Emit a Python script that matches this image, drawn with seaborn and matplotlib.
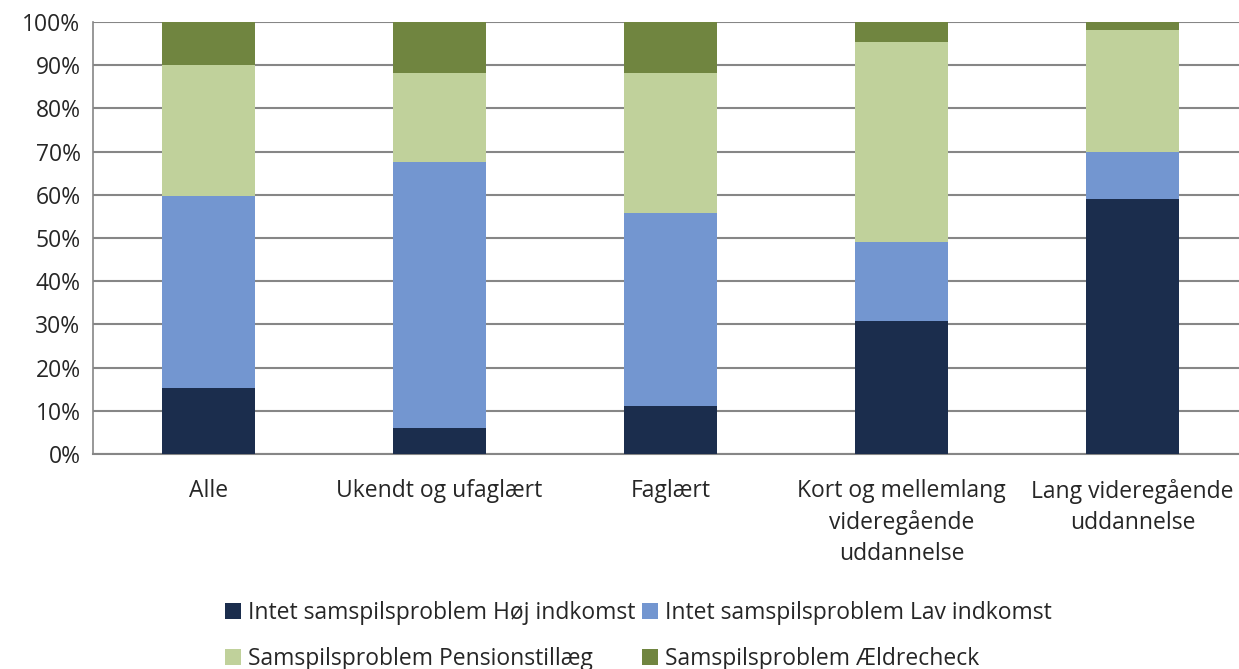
import numpy as np
import pandas as pd
import matplotlib
matplotlib.use("Agg")
import matplotlib.pyplot as plt
from matplotlib.patches import Patch
import seaborn as sns

# Data (percent of each group)
categories = ["Alle", "Ukendt og ufaglært", "Faglært",
              "Kort og mellemlang\nvideregående\nuddannelse",
              "Lang videregående\nuddannelse"]
hoej_indkomst = [15.2, 6.0, 11.2, 30.8, 59.1]
lav_indkomst = [44.6, 61.7, 44.7, 18.3, 10.9]
pensionstillaeg = [30.2, 20.6, 32.4, 46.2, 28.1]
aeldrecheck = [10.0, 11.7, 11.7, 4.7, 1.9]

series_names = ["Intet samspilsproblem Høj indkomst",
                "Intet samspilsproblem Lav indkomst",
                "Samspilsproblem Pensionstillæg",
                "Samspilsproblem Ældrecheck"]
colors = ["#1b2d4d", "#7396d0", "#c0d19b", "#708540"]

df = pd.DataFrame({
    "kategori": categories,
    series_names[0]: hoej_indkomst,
    series_names[1]: lav_indkomst,
    series_names[2]: pensionstillaeg,
    series_names[3]: aeldrecheck,
})
# cumulative tops for stacking
cum = df[series_names].cumsum(axis=1)

sns.set_style("white")
plt.rcParams["font.family"] = ["Open Sans", "DejaVu Sans"]
fs = 16.5

fig = plt.figure(figsize=(12.39, 6.69), dpi=100)
ax = fig.add_axes([93 / 1239, 1 - 454 / 669, 1155 / 1239, 432 / 669])

# draw from the top segment down so lower segments cover upper ones
for name, col in zip(reversed(series_names), reversed(colors)):
    sns.barplot(x=df["kategori"], y=cum[name], color=col, width=0.4,
                saturation=1, ax=ax, linewidth=0, zorder=3)

ax.set_xlim(-0.5, len(categories) - 0.5)
ax.set_ylim(0, 100)
ax.set_yticks(np.arange(0, 101, 10))
ax.set_yticklabels([f"{v}%" for v in range(0, 101, 10)], fontsize=fs)
ax.set_xticks(range(len(categories)))
ax.set_xticklabels(categories, fontsize=fs, linespacing=1.38)
ax.set_xticks(np.arange(-0.5, len(categories), 1), minor=True)
ax.tick_params(axis="x", which="major", length=0, pad=18)
ax.tick_params(axis="x", which="minor", length=6, width=1.2, color="#868686")
ax.tick_params(axis="y", length=6, width=1.2, color="#868686", pad=3)
ax.set_xlabel("")
ax.set_ylabel("")
ax.yaxis.grid(True, color="#868686", linewidth=1.5, zorder=0)
ax.set_axisbelow(True)
for s in ["top", "right"]:
    ax.spines[s].set_visible(False)
ax.spines["left"].set_color("#868686")
ax.spines["left"].set_linewidth(1.2)
ax.spines["bottom"].set_color("#868686")
ax.spines["bottom"].set_linewidth(1.5)

# legend is filled column-wise, so reorder to get row-wise layout
order = [0, 2, 1, 3]
handles = [Patch(facecolor=colors[i], edgecolor="none") for i in order]
labels = [series_names[i] for i in order]
fig.legend(handles, labels, loc="center", ncol=2,
           bbox_to_anchor=(0.515, 0.049), frameon=False, fontsize=fs,
           handlelength=0.7, handleheight=0.7, handletextpad=0.3,
           columnspacing=0.3, labelspacing=0.95, alignment="left")

fig.savefig("out.png", dpi=100)
